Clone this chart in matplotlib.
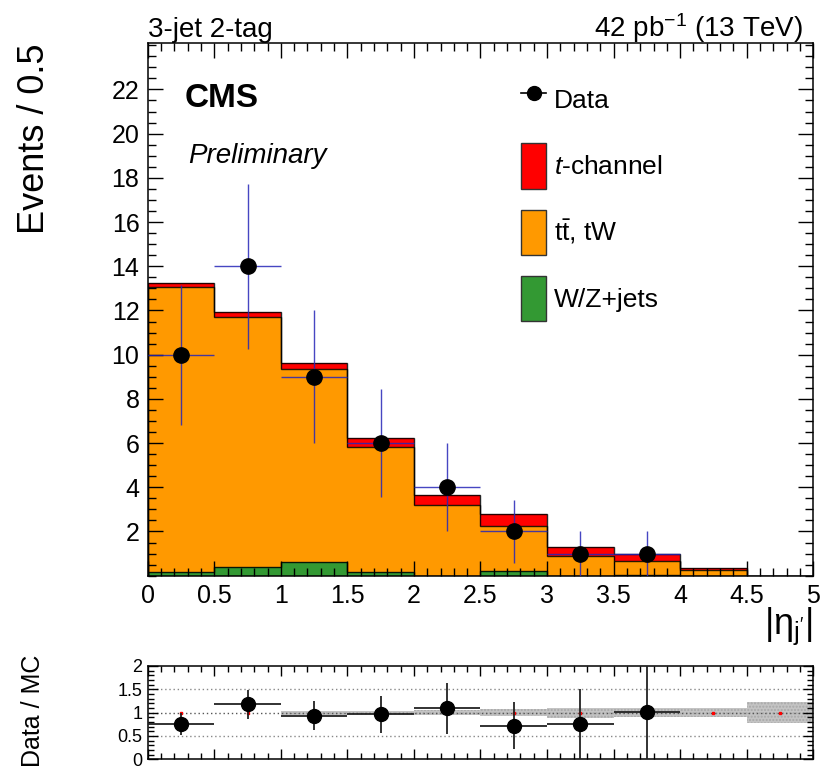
"""
plot.py
CMS preliminary |eta_j'| distribution, 3-jet 2-tag, with data/MC ratio panel.
"""

import numpy as np
import matplotlib
matplotlib.use("Agg")
import matplotlib.pyplot as plt
from matplotlib.lines import Line2D
from matplotlib.patches import Patch
from matplotlib.ticker import MultipleLocator, FixedLocator, FixedFormatter

# ─── Style ──────────────────────────────────────────────────────────────────────
plt.rcParams['font.family'] = ['Liberation Sans', 'DejaVu Sans']
plt.rcParams['mathtext.fontset'] = 'custom'
plt.rcParams['mathtext.rm'] = 'Liberation Sans'
plt.rcParams['mathtext.it'] = 'Liberation Sans:italic'
plt.rcParams['mathtext.bf'] = 'Liberation Sans:bold'

# ─── Data ───────────────────────────────────────────────────────────────────────
bin_edges = [0.0, 0.5, 1.0, 1.5, 2.0, 2.5, 3.0, 3.5, 4.0, 4.5, 5.0]

wzjets   = [0.15, 0.38, 0.60, 0.15, 0.00, 0.20, 0.00, 0.03, 0.00, 0.00]
ttbar_tw = [12.90, 11.33, 8.76, 5.69, 3.21, 2.03, 0.90, 0.62, 0.27, 0.00]
tchannel = [0.19, 0.21, 0.27, 0.39, 0.45, 0.56, 0.42, 0.33, 0.10, 0.00]

data_counts = [10, 14, 9, 6, 4, 2, 1, 1, 0, 0]

# MC stat. uncertainty on the ratio (half width of the grey band)
mc_band = [0.0, 0.0, 0.04, 0.03, 0.05, 0.07, 0.11, 0.09, 0.10, 0.22]

x_ticks_main = [0, 0.5, 1, 1.5, 2, 2.5, 3, 3.5, 4, 4.5, 5]
x_tick_labels = ['0', '0.5', '1', '1.5', '2', '2.5', '3', '3.5', '4', '4.5', '5']
y_ticks_main = [2, 4, 6, 8, 10, 12, 14, 16, 18, 20, 22]
y_ticks_ratio = [0, 0.5, 1, 1.5, 2]
y_tick_labels_ratio = ['0', '0.5', '1', '1.5', '2']

C_RED    = '#ff0000'
C_ORANGE = '#ff9900'
C_GREEN  = '#339933'
C_ERR    = (0.15, 0.15, 0.72, 0.85)

# ─── Derived ────────────────────────────────────────────────────────────────────
edges   = np.array(bin_edges)
centers = 0.5 * (edges[1:] + edges[:-1])
half_w  = 0.5 * np.diff(edges)
wz      = np.array(wzjets)
tt      = np.array(ttbar_tw)
tc      = np.array(tchannel)
dat     = np.array(data_counts, dtype=float)

lvl1 = wz
lvl2 = wz + tt
lvl3 = wz + tt + tc

# ─── Figure ─────────────────────────────────────────────────────────────────────
fig = plt.figure(figsize=(8.28, 7.71), dpi=100)
ax  = fig.add_axes([0.1784, 0.2533, 0.8038, 0.6909])
axr = fig.add_axes([0.1784, 0.0152, 0.8038, 0.1210])

# Stacked histogram
ax.stairs(lvl1, edges, baseline=0, fill=True, color=C_GREEN, lw=0)
ax.stairs(lvl2, edges, baseline=lvl1, fill=True, color=C_ORANGE, lw=0)
ax.stairs(lvl3, edges, baseline=lvl2, fill=True, color=C_RED, lw=0)
for lv in (lvl1, lvl2, lvl3):
    ax.stairs(lv, edges, color='black', lw=1.0, alpha=0.85)

# Data
mask = dat > 0
ax.errorbar(centers[mask], dat[mask], xerr=half_w[mask], yerr=np.sqrt(dat[mask]),
            fmt='o', color='black', ms=11, ecolor=C_ERR, elinewidth=1.0,
            capsize=0, zorder=5)

ax.set_xlim(0, 5)
ax.set_ylim(0, 24.1)
ax.xaxis.set_major_locator(FixedLocator(x_ticks_main))
ax.xaxis.set_major_formatter(FixedFormatter(x_tick_labels))
ax.xaxis.set_minor_locator(MultipleLocator(0.1))
ax.yaxis.set_major_locator(FixedLocator(y_ticks_main))
ax.yaxis.set_minor_locator(MultipleLocator(0.5))
ax.tick_params(which='both', direction='in', top=True, right=True, width=1.0)
ax.tick_params(which='major', length=11, labelsize=18, pad=6)
ax.tick_params(which='minor', length=5.5)
for s in ax.spines.values():
    s.set_linewidth(1.1)

# Legend
handles = [
    Line2D([0], [0], color='black', lw=1.2, marker='o', ms=10),
    Patch(facecolor=C_RED, edgecolor='#333333', lw=1),
    Patch(facecolor=C_ORANGE, edgecolor='#333333', lw=1),
    Patch(facecolor=C_GREEN, edgecolor='#333333', lw=1),
]
labels = ['Data', r'$t$-channel', r'$\mathrm{t\bar{t}}$, tW', 'W/Z+jets']
ax.legend(handles, labels, loc='upper left', bbox_to_anchor=(0.561, 0.936),
          frameon=False, fontsize=19, handlelength=0.95, handleheight=2.26,
          labelspacing=0.8, handletextpad=0.3, borderpad=0, borderaxespad=0)

# Labels
ax.text(0.056, 0.925, 'CMS', transform=ax.transAxes, fontsize=24,
        fontweight='bold', ha='left', va='top')
ax.text(0.061, 0.812, 'Preliminary', transform=ax.transAxes, fontsize=20,
        style='italic', ha='left', va='top')
ax.text(0.0, 1.011, '3-jet 2-tag', transform=ax.transAxes, fontsize=20,
        ha='left', va='baseline')
ax.text(0.9845, 1.011, r'42 pb$^{\mathregular{-1}}$ (13 TeV)', transform=ax.transAxes,
        fontsize=20, ha='right', va='baseline')
fig.text(0.042, 0.9442, 'Events / 0.5', rotation=90, fontsize=26,
         ha='center', va='top')
fig.text(0.982, 0.215, r"|η$_{\mathrm{j}^{\prime}}$|", fontsize=26,
         ha='right', va='top')
fig.text(0.040, 0.078, 'Data / MC', rotation=90, fontsize=18,
         ha='center', va='center')

# ─── Ratio panel ────────────────────────────────────────────────────────────────
band = np.array(mc_band)
axr.stairs(1 + band, edges, baseline=1 - band, fill=True,
           facecolor='#c4c4c4', edgecolor='#a8a8a8', lw=0, hatch='.....')
for yv in (0.5, 1.0, 1.5):
    axr.axhline(yv, color='#888888' if yv != 1.0 else '#555555',
                lw=1.0, ls=(0, (1, 2)), zorder=1)
axr.plot(centers, np.ones_like(centers), 's', color='red', ms=1.5, zorder=2)

ratio = dat[mask] / lvl3[mask]
ratio_err = np.sqrt(dat[mask]) / lvl3[mask]
axr.errorbar(centers[mask], ratio, xerr=half_w[mask], yerr=ratio_err,
             fmt='o', color='black', ms=10, ecolor='#222222', elinewidth=1.3,
             capsize=0, zorder=5)

axr.set_xlim(0, 5)
axr.set_ylim(0, 2)
axr.xaxis.set_major_locator(MultipleLocator(0.5))
axr.xaxis.set_minor_locator(MultipleLocator(0.1))
axr.yaxis.set_major_locator(FixedLocator(y_ticks_ratio))
axr.yaxis.set_major_formatter(FixedFormatter(y_tick_labels_ratio))
axr.yaxis.set_minor_locator(MultipleLocator(0.1))
axr.tick_params(which='both', direction='in', top=True, right=True, width=1.0)
axr.tick_params(which='major', length=7, labelsize=13, pad=4)
axr.tick_params(which='minor', length=4.5)
axr.tick_params(axis='x', labelbottom=False)
for s in axr.spines.values():
    s.set_linewidth(1.1)

fig.savefig('out.png', dpi=100)
